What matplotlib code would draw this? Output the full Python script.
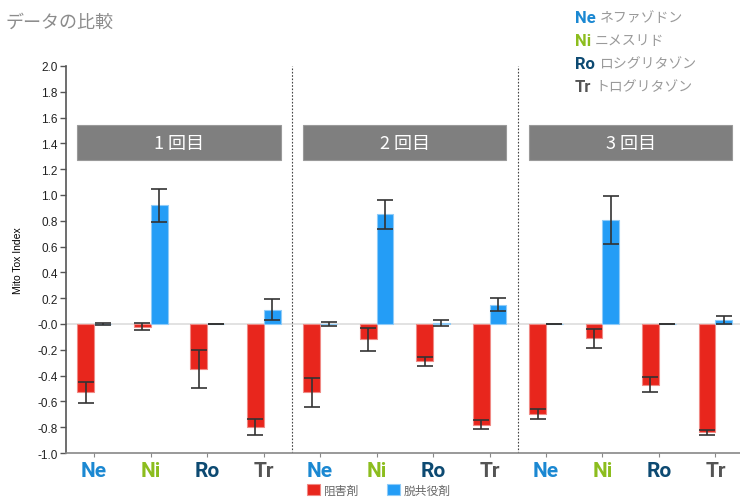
import numpy as np
import matplotlib.pyplot as plt
import matplotlib.transforms as mtransforms
from matplotlib.patches import Rectangle

# data
runs = ['1 回目', '2 回目', '3 回目']
drugs = ['Ne', 'Ni', 'Ro', 'Tr']
drug_names = ['ネファゾドン', 'ニメスリド', 'ロシグリタゾン', 'トログリタゾン']
drug_colors = ['#1b88d2', '#8cbd1e', '#0d4a72', '#545454']

inhibitor = [-0.53, -0.02, -0.35, -0.80,
             -0.53, -0.12, -0.29, -0.78,
             -0.70, -0.11, -0.47, -0.84]
inhibitor_err = [0.08, 0.03, 0.145, 0.06,
                 0.11, 0.09, 0.037, 0.035,
                 0.04, 0.075, 0.058, 0.02]
uncoupler = [0.00, 0.92, 0.00, 0.11,
             0.00, 0.85, 0.01, 0.15,
             0.00, 0.805, 0.00, 0.03]
uncoupler_err = [0.005, 0.13, 0.003, 0.08,
                 0.012, 0.11, 0.023, 0.05,
                 0.00, 0.185, 0.00, 0.03]
yticks = np.round(np.arange(-1.0, 2.01, 0.2), 1)

red = '#e8261d'
blue = '#249df6'
tick_font = ['Liberation Sans', 'Noto Sans CJK JP']
jp_font = ['Noto Sans CJK JP', 'DejaVu Sans']

fig = plt.figure(figsize=(7.4, 5.02), dpi=100)
ax = fig.add_axes([0.089, 0.0956, 0.916, 0.771])

x = np.arange(len(inhibitor))
w = 0.3
ekw = dict(ecolor='#333333', elinewidth=1.2, capsize=6, capthick=1.2)
ax.bar(x - w / 2, inhibitor, w, color=red, edgecolor='#f08a85', linewidth=0.8,
       yerr=inhibitor_err, error_kw=ekw, label='阻害剤', zorder=3)
ax.bar(x + w / 2, uncoupler, w, color=blue, edgecolor='#8fcbf8', linewidth=0.8,
       yerr=uncoupler_err, error_kw=ekw, label='脱共役剤', zorder=3)

ax.axhline(0, color='#dddddd', lw=1.2, zorder=1)
for xd in [3.5, 7.5]:
    ax.axvline(xd, color='#444444', lw=0.8, ls=(0, (1.5, 1.5)), zorder=1)

# run header boxes
for i, run in enumerate(runs):
    x0 = i * 4 - 0.3
    ax.add_patch(Rectangle((x0, 1.27), 3.6, 0.27, facecolor='#7f7f7f',
                           edgecolor='#9a9a9a', lw=0.8, zorder=2))
    ax.text(x0 + 1.8, 1.405, run, ha='center', va='center', color='white',
            fontsize=13, family=jp_font, zorder=4)

ax.set_xlim(-0.5, 11.5)
ax.set_ylim(-1.0, 2.0)
ax.set_yticks(yticks)
ax.set_yticklabels([f'{v:.1f}' for v in yticks], family=tick_font, fontsize=8.5,
                   color='#222222')
ax.set_xticks(x)
ax.set_xticklabels(drugs * 3, family='Roboto', fontweight='bold', fontsize=15)
shift = mtransforms.ScaledTranslation(5 / 100, 0, fig.dpi_scale_trans)
for lbl, c in zip(ax.get_xticklabels(), drug_colors * 3):
    lbl.set_color(c)
    lbl.set_transform(lbl.get_transform() + shift)
ax.tick_params(axis='x', length=3, pad=3, color='#888888')
ax.tick_params(axis='y', length=4, width=1, color='#555555', pad=2)
for s in ['top', 'right']:
    ax.spines[s].set_visible(False)
ax.spines['left'].set_color('#555555')
ax.spines['left'].set_linewidth(1.2)
ax.spines['bottom'].set_color('#888888')
ax.spines['bottom'].set_linewidth(1.2)
ax.set_ylabel('Mito Tox Index', family=tick_font, fontsize=7.5, labelpad=10)

fig.text(0.007, 0.955, 'データの比較', family=jp_font, fontsize=13,
         color='#8c8c8c', va='center')

# drug legend top right
renderer = fig.canvas.get_renderer()
for i, (d, n, c) in enumerate(zip(drugs, drug_names, drug_colors)):
    yy = 0.964 - i * 0.046
    t = fig.text(0.777, yy, d, family='Roboto', fontweight='bold', fontsize=12,
                 color=c, va='center')
    bb = t.get_window_extent(renderer)
    fig.text((bb.x1 + 4) / fig.bbox.width, yy, n,
             family=jp_font, fontsize=10, color='#9a9a9a', va='center')

leg = fig.legend(loc='lower center', bbox_to_anchor=(0.512, -0.008), ncol=2,
                 frameon=False, prop={'family': jp_font, 'size': 8.5},
                 handlelength=1.1, handleheight=1.1, columnspacing=2.4,
                 handletextpad=0.3, borderpad=0.2)
for t in leg.get_texts():
    t.set_color('#666666')

fig.savefig('out.png', dpi=100)
